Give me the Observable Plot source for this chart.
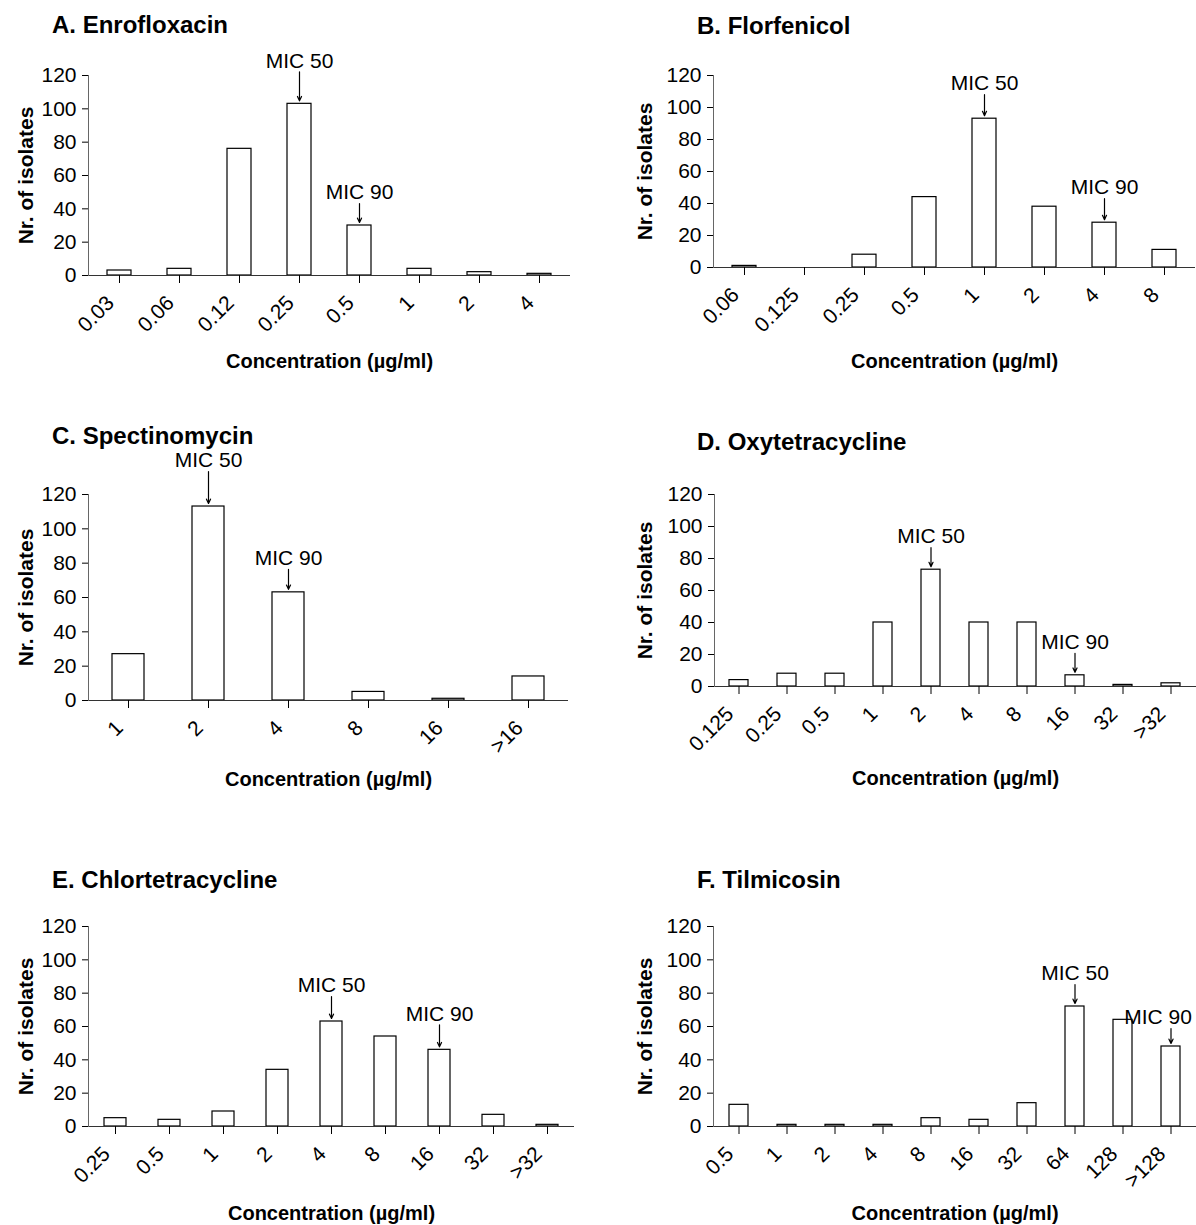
<!DOCTYPE html>
<html><head><meta charset="utf-8">
<script src="https://cdn.jsdelivr.net/npm/d3@7"></script>
<script src="https://cdn.jsdelivr.net/npm/@observablehq/plot@0.6"></script>
<style>
body{margin:0;background:#fff;}
#root{position:relative;width:1196px;height:1225px;overflow:hidden;font-family:"Liberation Sans",Arial,sans-serif;background:#fff;}
.title{position:absolute;font-weight:bold;font-size:24px;line-height:1;white-space:nowrap;color:#000;}
.panel{position:absolute;}
</style></head><body><div id="root"></div>
<script>
// ---- data ----
const titles = ["A. Enrofloxacin","B. Florfenicol","C. Spectinomycin","D. Oxytetracycline","E. Chlortetracycline","F. Tilmicosin"];
const enroConc = ["0.03","0.06","0.12","0.25","0.5","1","2","4"];
const enroCount = [3,4,76,103,30,4,2,1];
const florConc = ["0.06","0.125","0.25","0.5","1","2","4","8"];
const florCount = [1,0,8,44,93,38,28,11];
const spectConc = ["1","2","4","8","16",">16"];
const spectCount = [27,113,63,5,1,14];
const oxyConc = ["0.125","0.25","0.5","1","2","4","8","16","32",">32"];
const oxyCount = [4,8,8,40,73,40,40,7,1,2];
const chlorConc = ["0.25","0.5","1","2","4","8","16","32",">32"];
const chlorCount = [5,4,9,34,63,54,46,7,1];
const tilmConc = ["0.5","1","2","4","8","16","32","64","128",">128"];
const tilmCount = [13,1,1,1,5,4,14,72,64,48];
const mic50 = ["0.25","1","2","2","4","64"];
const mic90 = ["0.5","4","4","16","16",">128"];
const yTicks = [0,20,40,60,80,100,120];
const yLabel = "Nr. of isolates";
const xLabel = "Concentration (µg/ml)";

const concs = [enroConc, florConc, spectConc, oxyConc, chlorConc, tilmConc];
const counts = [enroCount, florCount, spectCount, oxyCount, chlorCount, tilmCount];

// ---- layout ----
const layout = [
  {left:0,   top:40,  w:600, h:335, ml:88,  mr:30, mt:35, mb:100, tx:52,  ty:13,  ylo:70, xlo:92,  lift50:43, lift90:33, dx90:0},
  {left:600, top:40,  w:596, h:335, ml:113, mr:1,  mt:35, mb:108, tx:697, ty:14,  ylo:76, xlo:100, lift50:35, lift90:35, dx90:0},
  {left:0,   top:450, w:600, h:345, ml:88,  mr:32, mt:44, mb:95,  tx:52,  ty:424, ylo:70, xlo:85,  lift50:46, lift90:34, dx90:0},
  {left:600, top:450, w:596, h:345, ml:114, mr:0,  mt:44, mb:109, tx:697, ty:430, ylo:77, xlo:98,  lift50:33, lift90:33, dx90:0},
  {left:0,   top:895, w:600, h:330, ml:88,  mr:26, mt:31, mb:99,  tx:52,  ty:868, ylo:70, xlo:93,  lift50:36, lift90:36, dx90:0},
  {left:600, top:895, w:596, h:330, ml:113, mr:0,  mt:31, mb:99,  tx:697, ty:868, ylo:76, xlo:93,  lift50:33, lift90:29, dx90:-13}
];

const root = document.getElementById("root");
const FONT = '"Liberation Sans", Arial, sans-serif';

layout.forEach((L, k) => {
  const t = document.createElement("div");
  t.className = "title";
  t.style.left = L.tx + "px"; t.style.top = L.ty + "px";
  t.textContent = titles[k];
  root.appendChild(t);

  const data = concs[k].map((c, i) => ({conc: c, n: counts[k][i]}));
  const innerH = L.h - L.mt - L.mb;
  const upp = 120 / innerH;
  const a50 = [{conc: mic50[k], label: "MIC 50", lift: L.lift50}];
  const a90 = [{conc: mic90[k], label: "MIC 90", lift: L.lift90}];
  [a50, a90].forEach(arr => arr.forEach(a => a.n = data.find(d => d.conc === a.conc).n));
  const ann = a50.concat(a90);

  const chart = Plot.plot({
    width: L.w, height: L.h,
    marginLeft: L.ml, marginRight: L.mr, marginTop: L.mt, marginBottom: L.mb,
    style: {fontFamily: FONT, fontSize: "21px", color: "#000", background: "transparent", overflow: "visible"},
    x: {type: "band", domain: concs[k], paddingInner: 0.6, paddingOuter: 0.3},
    y: {domain: [0, 120]},
    marks: [
      Plot.barY(data, {x: "conc", y: "n", fill: "white", stroke: "black", strokeWidth: 1.2}),
      Plot.ruleY([0], {stroke: "#333", strokeWidth: 1}),
      Plot.frame({anchor: "left", stroke: "#666"}),
      Plot.axisY({ticks: yTicks, tickSize: 6, tickPadding: 6, label: yLabel, labelAnchor: "center",
        labelArrow: "none", labelOffset: L.ylo, fontSize: 21}),
      // tick marks only
      Plot.axisX({tickSize: 8, tickFormat: () => "", label: null}),
      // rotated tick labels + axis label
      Plot.axisX({tickRotate: -45, tickSize: 0, tickPadding: 24, dx: -9, label: xLabel, labelAnchor: "center",
        labelArrow: "none", labelOffset: L.xlo, fontSize: 21}),
      Plot.arrow(ann, {x: "conc", y1: d => d.n + (d.lift - 11) * upp, y2: d => d.n + 3 * upp,
        stroke: "black", strokeWidth: 1.2, headLength: 6, headAngle: 50}),
      Plot.text(a50, {x: "conc", y: d => d.n + d.lift * upp, text: "label", fontSize: 21, textAnchor: "middle"}),
      Plot.text(a90, {x: "conc", y: d => d.n + d.lift * upp, dx: L.dx90, text: "label", fontSize: 21, textAnchor: "middle"})
    ]
  });
  chart.querySelectorAll("[aria-label='y-axis label']")
    .forEach(el => { el.setAttribute("font-weight", "bold"); el.setAttribute("font-size", "21"); });
  chart.querySelectorAll("[aria-label='x-axis label']")
    .forEach(el => { el.setAttribute("font-weight", "bold"); el.setAttribute("font-size", "20"); });
  const wrap = document.createElement("div");
  wrap.className = "panel";
  wrap.style.left = L.left + "px"; wrap.style.top = L.top + "px";
  wrap.appendChild(chart);
  root.appendChild(wrap);
});
</script>
</body></html>
